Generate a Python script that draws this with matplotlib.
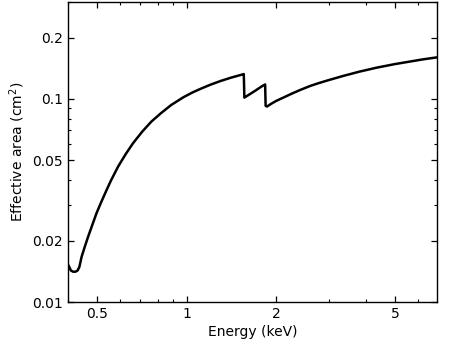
import matplotlib
matplotlib.use("Agg")
import matplotlib.pyplot as plt
from matplotlib.ticker import FixedLocator, FixedFormatter, LogLocator, NullFormatter

energy = [0.400, 0.404, 0.409, 0.416, 0.424, 0.431, 0.437, 0.4445, 0.456, 0.4676,
          0.483, 0.4989, 0.516, 0.5387, 0.557, 0.5891, 0.625, 0.6612, 0.71,
          0.7619, 0.82, 0.8887, 0.977, 1.0498, 1.125, 1.203, 1.30, 1.404,
          1.48, 1.548, 1.556,
          1.563, 1.68, 1.792, 1.835,
          1.842, 1.862, 1.92, 2.00, 2.115, 2.25, 2.406, 2.598, 2.770, 3.00,
          3.357, 3.80, 4.343, 5.00, 5.613, 6.20, 6.95]
area = [0.0153, 0.0149, 0.0143, 0.0141, 0.0141, 0.0143, 0.0149, 0.0167, 0.0188, 0.0210,
        0.0240, 0.0274, 0.0308, 0.0355, 0.0395, 0.0464, 0.0535, 0.0605, 0.0690,
        0.0773, 0.0850, 0.0934, 0.1020, 0.1078, 0.1128, 0.1175, 0.1225, 0.1270,
        0.1298, 0.1322, 0.1325,
        0.1015, 0.1085, 0.1155, 0.1178,
        0.0925, 0.0917, 0.0945, 0.0978, 0.1016, 0.1060, 0.1107, 0.1158, 0.1195, 0.1238,
        0.1298, 0.1362, 0.1425, 0.1484, 0.1527, 0.1565, 0.1603]

xticks = [0.5, 1, 2, 5]
xticklabels = ["0.5", "1", "2", "5"]
yticks = [0.01, 0.02, 0.05, 0.1, 0.2]
yticklabels = ["0.01", "0.02", "0.05", "0.1", "0.2"]

fig = plt.figure(figsize=(4.5, 3.45), dpi=100)
ax = fig.add_axes([0.151, 0.1246, 0.820, 0.8696])
ax.plot(energy, area, color="black", lw=1.8, solid_joinstyle="round")
ax.set_xscale("log")
ax.set_yscale("log")
ax.set_xlim(0.4, 6.92)
ax.set_ylim(0.01, 0.3)

ax.xaxis.set_major_locator(FixedLocator(xticks))
ax.xaxis.set_major_formatter(FixedFormatter(xticklabels))
ax.xaxis.set_minor_locator(LogLocator(base=10, subs=range(1, 10), numticks=20))
ax.xaxis.set_minor_formatter(NullFormatter())
ax.yaxis.set_major_locator(FixedLocator(yticks))
ax.yaxis.set_major_formatter(FixedFormatter(yticklabels))
ax.yaxis.set_minor_locator(LogLocator(base=10, subs=range(1, 10), numticks=20))
ax.yaxis.set_minor_formatter(NullFormatter())

ax.tick_params(which="both", direction="in", top=True, right=True, labelsize=10)
ax.tick_params(which="major", length=4.5, width=0.9)
ax.tick_params(which="minor", length=2.5, width=0.8)
for s in ax.spines.values():
    s.set_linewidth(1.0)

ax.set_xlabel("Energy (keV)", fontsize=10, labelpad=3)
ax.set_ylabel("Effective area (cm$^2$)", fontsize=10, labelpad=4)

fig.savefig("out.png", dpi=100)
